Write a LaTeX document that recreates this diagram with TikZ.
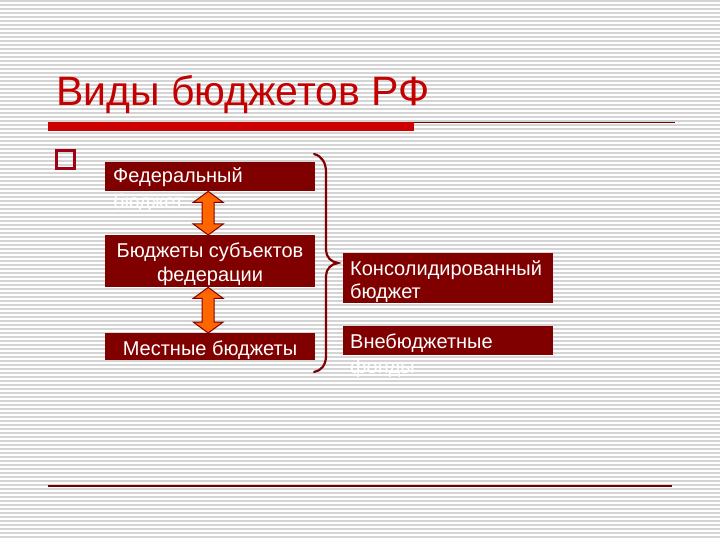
\documentclass[tikz,border=0pt]{standalone}
\usepackage{fontspec}
\setmainfont{Liberation Sans}
\usetikzlibrary{calc}
\definecolor{boxred}{RGB}{128,0,0}
\definecolor{titlered}{RGB}{196,0,0}
\definecolor{barred}{RGB}{204,0,0}
\definecolor{stripe}{RGB}{212,212,212}
\definecolor{arrorange}{RGB}{255,102,0}
\definecolor{linered}{RGB}{110,0,0}
\tikzset{
  box/.style={fill=boxred, draw=none, inner sep=0pt, anchor=north west},
  boxtext/.style={text=white, inner sep=0pt, font=\fontsize{20}{25}\selectfont},
  dblarr/.style={fill=arrorange, draw=boxred, line width=1pt, line join=miter},
  bracestyle/.style={draw=boxred, line width=2.2pt, line cap=round}
}
\begin{document}
\begin{tikzpicture}[x=1pt,y=-1pt]
\useasboundingbox (0,0) rectangle (720,540);
\fill[white] (0,0) rectangle (720,540);
\foreach \s in {1,5,...,537} \draw[stripe, line width=1.3pt] (0,\s) -- (720,\s);
% title
\node[anchor=base west, inner sep=0pt, text=titlered, font=\fontsize{41}{48}\selectfont] (title) at (56,106) {Виды бюджетов РФ};
\fill[barred] (48,122) rectangle (414,131);
\draw[linered, line width=1pt] (414,123) -- (675,123);
% bullet
\draw[draw={rgb,255:red,160;green,0;blue,20}, line width=3pt] (56.5,150.5) rectangle (74.5,168.5);
% left boxes
\node[box, minimum width=210, minimum height=29] (b1) at (105,162) {};
\node[box, minimum width=210, minimum height=52] (b2) at (105,235) {};
\node[box, minimum width=210, minimum height=27] (b3) at (105,333) {};
% right boxes
\node[box, minimum width=210, minimum height=50] (b4) at (343,253) {};
\node[box, minimum width=210, minimum height=29] (b5) at (343,326) {};
% texts
\node[boxtext, anchor=base west] (t1a) at (113,183) {Федеральный};
\node[boxtext, anchor=base west] (t1b) at (113,208) {бюджет};
\node[boxtext, anchor=base] (t2a) at (210,258) {Бюджеты субъектов};
\node[boxtext, anchor=base] (t2b) at (210,281) {федерации};
\node[boxtext, anchor=base] (t3) at (210,355) {Местные бюджеты};
\node[boxtext, anchor=base west] (t4a) at (350,275) {Консолидированный};
\node[boxtext, anchor=base west] (t4b) at (350,298) {бюджет};
\node[boxtext, anchor=base west] (t5a) at (350,348) {Внебюджетные};
\node[boxtext, anchor=base west] (t5b) at (350,373) {фонды};
% double arrows
\foreach \a/\b in {b1/b2, b2/b3}{
\draw[dblarr] let \p1=($(\a.south)+(-2,0)$), \p2=($(\b.north)+(-2,0)$) in
  (\x1,\y1) -- (\x1+15,\y1-11) -- (\x1+6,\y1-11) -- (\x1+6,\y2+11) -- (\x1+15,\y2+11)
  -- (\x2,\y2) -- (\x1-15,\y2+11) -- (\x1-6,\y2+11) -- (\x1-6,\y1-11) -- (\x1-15,\y1-11) -- cycle;
}
% brace
\draw[bracestyle] (314,154) .. controls (322,156) and (326,163) .. (326,172)
  -- (326,250) .. controls (326,257) and (331,262) .. (338,263)
  .. controls (331,264) and (326,269) .. (326,276)
  -- (326,356) .. controls (326,365) and (321,371) .. (314,372);
% bottom line
\draw[linered, line width=1.5pt] (48,486) -- (672,486);
\end{tikzpicture}
\end{document}
